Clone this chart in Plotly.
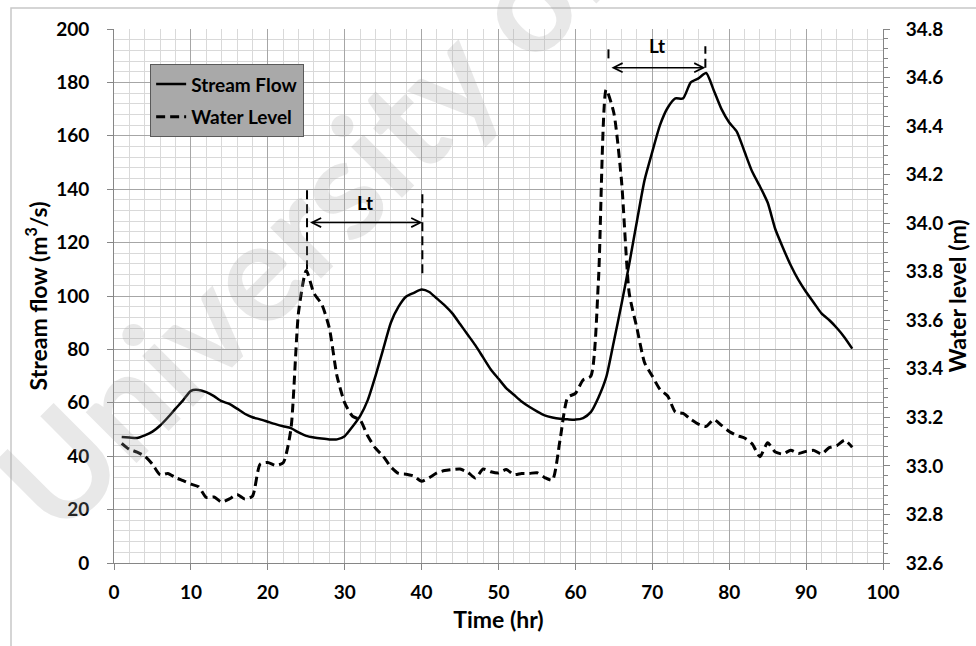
import plotly.graph_objects as go

# ---------------- data ----------------
time_hr = list(range(1, 97))

stream_flow = [
    47.2, 47.0, 46.8, 47.8, 49.2, 51.5, 54.5, 57.8, 61.0, 64.5,
    64.8, 64.0, 62.5, 60.6, 59.6, 57.8, 55.9, 54.6, 53.8, 52.9,
    52.0, 51.2, 50.5, 48.9, 47.6, 47.0, 46.6, 46.3, 46.3, 47.5,
    51.0, 55.0, 61.0, 70.0, 80.0, 90.0, 96.0, 99.8, 101.2, 102.4,
    101.5, 99.0, 96.5, 93.5, 89.5, 85.5, 81.5, 77.0, 72.5, 69.0,
    65.5, 63.0, 60.5, 58.5, 56.8, 55.3, 54.5, 54.0, 53.8, 53.7,
    54.3, 56.5, 62.0, 69.5, 83.0, 97.0, 112.0, 128.0, 143.5, 154.0,
    164.0, 170.5, 174.0, 174.0, 180.0, 181.5, 183.5, 177.0, 170.0, 165.0,
    161.5, 154.0, 146.5, 141.0, 135.0, 125.0, 118.0, 111.5, 106.0, 101.5,
    97.5, 93.5, 91.0, 88.0, 84.5, 80.3,
]

water_level = [
    33.093, 33.068, 33.057, 33.040, 33.007, 32.963, 32.969, 32.952, 32.939, 32.925,
    32.914, 32.870, 32.872, 32.851, 32.864, 32.882, 32.864, 32.875, 33.007, 33.014,
    33.002, 33.013, 33.150, 33.634, 33.805, 33.711, 33.667, 33.568, 33.370, 33.260,
    33.205, 33.189, 33.123, 33.073, 33.040, 32.996, 32.969, 32.966, 32.958, 32.937,
    32.952, 32.971, 32.981, 32.985, 32.987, 32.974, 32.950, 32.987, 32.976, 32.971,
    32.985, 32.964, 32.969, 32.969, 32.972, 32.952, 32.941, 33.106, 33.282, 33.299,
    33.354, 33.370, 33.766, 34.550, 34.454, 34.173, 33.711, 33.568, 33.425, 33.370,
    33.315, 33.288, 33.222, 33.216, 33.192, 33.172, 33.163, 33.191, 33.167, 33.142,
    33.125, 33.115, 33.090, 33.038, 33.095, 33.057, 33.049, 33.065, 33.051, 33.060,
    33.064, 33.049, 33.075, 33.084, 33.106, 33.077,
]

x_ticks = [0, 10, 20, 30, 40, 50, 60, 70, 80, 90, 100]
flow_ticks = [0, 20, 40, 60, 80, 100, 120, 140, 160, 180, 200]
level_ticks = [32.6, 32.8, 33.0, 33.2, 33.4, 33.6, 33.8, 34.0, 34.2, 34.4, 34.6, 34.8]

# lag-time markers (times of the two peaks, arrow height, marker extents, label height)
lag1 = dict(t0=25.1, t1=40.1, y_arrow=127.5, y_top=140, y_bot0=110, y_bot1=108.5, label_y=135)
lag2 = dict(t0=64.3, t1=76.9, y_arrow=185.5, y_top=193.5, y_bot0=189, y_bot1=185.5, label_y=194)

FONT = "Lato"
AXIS_GRAY = "#868686"

fig = go.Figure()

# faint watermark (drawn first, behind the data)
fig.add_annotation(x=0.245, y=0.64, xref="paper", yref="paper", text="<b>University of</b>",
                   xanchor="center", yanchor="middle",
                   showarrow=False, textangle=-45,
                   font=dict(family=FONT, size=140, color="rgba(160,160,160,0.24)"))

fig.add_trace(go.Scatter(
    x=time_hr, y=stream_flow, name="Stream Flow", mode="lines",
    line=dict(color="black", width=2.5, shape="spline", smoothing=0.6),
    legendgroup="a", yaxis="y",
))
fig.add_trace(go.Scatter(
    x=time_hr, y=water_level, name="Water Level", mode="lines",
    line=dict(color="black", width=3, dash="9px,5px", shape="spline", smoothing=0.6),
    legendgroup="b", yaxis="y2",
))

# Lag-time annotations
for lag in (lag1, lag2):
    fig.add_shape(type="line", xref="x", yref="y", x0=lag["t0"], x1=lag["t0"],
                  y0=lag["y_bot0"], y1=lag["y_top"],
                  line=dict(color="black", width=2, dash="9px,5px"))
    fig.add_shape(type="line", xref="x", yref="y", x0=lag["t1"], x1=lag["t1"],
                  y0=lag["y_bot1"], y1=lag["y_top"],
                  line=dict(color="black", width=2, dash="9px,5px"))
    fig.add_annotation(x=lag["t1"], y=lag["y_arrow"], ax=lag["t0"], ay=lag["y_arrow"],
                       xref="x", yref="y", axref="x", ayref="y", text=" ",
                       showarrow=True, arrowhead=5, startarrowhead=5, arrowside="end+start",
                       arrowwidth=1.5, arrowsize=1.2, startarrowsize=1.2, arrowcolor="black")
    fig.add_annotation(x=(lag["t0"] + lag["t1"]) / 2, y=lag["label_y"], xref="x", yref="y",
                       text="<b>Lt</b>", showarrow=False,
                       font=dict(family=FONT, size=19, color="black"))

# outer chart frame
fig.add_shape(type="rect", xref="paper", yref="paper",
              x0=(11 - 114) / 769, x1=(990 - 114) / 769,
              y0=(563 - 660) / 534, y1=1 + (29 - 8) / 534,
              line=dict(color="#c8c8c8", width=1.5), layer="below")

fig.update_layout(
    width=976, height=646, autosize=False,
    margin=dict(l=114, r=93, t=29, b=83, pad=0),
    paper_bgcolor="white", plot_bgcolor="white",
    font=dict(family=FONT, color="black"),
    showlegend=True,
    legend=dict(
        x=0.047, y=0.934, xanchor="left", yanchor="top",
        bgcolor="#a9a9a9", bordercolor="#5a5a5a", borderwidth=1,
        font=dict(family=FONT, size=19, color="black", weight="bold"),
        traceorder="grouped", tracegroupgap=5,
    ),
    xaxis=dict(
        range=[0, 100], tickvals=x_ticks, showgrid=True, gridcolor="#a6a6a6", gridwidth=1,
        minor=dict(dtick=2, tick0=0, showgrid=True, gridcolor="#d9d9d9", gridwidth=1),
        ticks="outside", ticklen=6, tickcolor=AXIS_GRAY, showline=True, linecolor=AXIS_GRAY,
        linewidth=1, zeroline=False, ticklabelstandoff=6,
        tickfont=dict(family=FONT, size=19, weight="bold"),
        title=dict(text="<b>Time (hr)</b>", font=dict(family=FONT, size=23), standoff=10),
    ),
    yaxis=dict(
        range=[0, 200], tickvals=flow_ticks, showgrid=True, gridcolor="#a6a6a6", gridwidth=1,
        minor=dict(dtick=4, tick0=0, showgrid=True, gridcolor="#d9d9d9", gridwidth=1),
        ticks="outside", ticklen=6, tickcolor=AXIS_GRAY, showline=True, linecolor=AXIS_GRAY,
        linewidth=1, zeroline=False, ticklabelstandoff=14,
        tickfont=dict(family=FONT, size=19, weight="bold"),
        title=dict(text="<b>Stream flow (m<sup>3</sup>/s)</b>", font=dict(family=FONT, size=23),
                   standoff=2),
    ),
    yaxis2=dict(
        range=[32.6, 34.8], tickvals=level_ticks, tickformat=".1f", overlaying="y", side="right",
        showgrid=False, zeroline=False,
        ticks="outside", ticklen=6, tickcolor=AXIS_GRAY, showline=True, linecolor=AXIS_GRAY,
        linewidth=1, ticklabelstandoff=12,
        minor=dict(dtick=0.04, tick0=32.6, ticks="outside", ticklen=4, tickcolor=AXIS_GRAY,
                   showgrid=False),
        tickfont=dict(family=FONT, size=19, weight="bold"),
        title=dict(text="<b>Water level (m)</b>", font=dict(family=FONT, size=23), standoff=6),
    ),
)

fig.write_html("out.html")
